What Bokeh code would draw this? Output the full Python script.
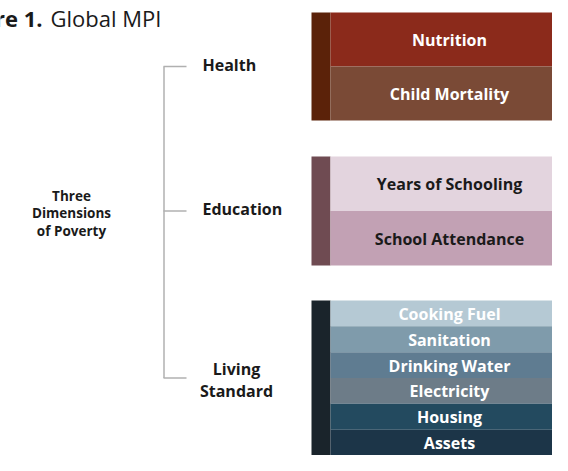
from bokeh.plotting import figure
from bokeh.models import Range1d
from bokeh.core.properties import value
from bokeh.embed import file_html
from bokeh.resources import INLINE

# ---- data ----
title_bold = "Figure 1."
title_rest = "Global MPI"
root_label = "Three\nDimensions\nof Poverty"
groups = ["Health", "Education", "Living\nStandard"]
indicators = [
    ["Nutrition", "Child Mortality"],
    ["Years of Schooling", "School Attendance"],
    ["Cooking Fuel", "Sanitation", "Drinking Water", "Electricity", "Housing", "Assets"],
]

# ---- style ----
strip_colors = ["#5b2209", "#6f4b52", "#1a242b"]
row_colors = [
    ["#8b2a1b", "#7a4a36"],
    ["#e3d4de", "#c2a1b4"],
    ["#b5c9d4", "#7f9bab", "#5f7c91", "#6d7c88", "#234a5f", "#1c3548"],
]
text_colors = ["#ffffff", "#1a1a1a", "#ffffff"]
group_top = [12, 156, 300]
group_bottom = [120, 265, 455]

W, H = 552, 455
p = figure(width=W, height=H, x_range=Range1d(0, W), y_range=Range1d(H, 0),
           output_backend="svg", toolbar_location=None, min_border=0)
p.axis.visible = False
p.grid.visible = False
p.outline_line_color = None
p.background_fill_color = "white"
p.border_fill_color = "white"

fontname = value("Open Sans")
dark = "#1a1a1a"

# title (left part is cropped like in the reference)
p.text(x=[42], y=[17], text=[title_bold], text_font=fontname, text_font_style="bold",
       text_font_size="22px", text_align="right", text_baseline="alphabetic", text_color=dark)
p.text(x=[50], y=[17], text=[title_rest], text_font=fontname, text_font_size="22px",
       text_align="left", text_baseline="alphabetic", text_color=dark)

centers = []
for gi, items in enumerate(indicators):
    n = len(items)
    top, bot = group_top[gi], group_bottom[gi]
    h = (bot - top) / n
    tops = [top + i * h for i in range(n)]
    bots = [t + h for t in tops]
    centers.append((top + bot) / 2)
    p.quad(left=[311], right=[330], top=[top], bottom=[bot], fill_color=strip_colors[gi], line_color=None)
    p.quad(left=[330] * n, right=[W] * n, top=tops, bottom=bots, fill_color=row_colors[gi], line_color=None)
    p.text(x=[449] * n, y=[(t + b) / 2 + 0.5 for t, b in zip(tops, bots)], text=items, text_font=fontname,
           text_font_style="bold", text_font_size="16px", text_align="center", text_baseline="middle",
           text_color=text_colors[gi])

# tree
p.line(x=[163.5, 163.5], y=[centers[0], centers[-1]], line_color="#b0b0b0", line_width=1.5)
for gi, c in enumerate(centers):
    p.line(x=[163, 186], y=[c, c], line_color="#b0b0b0", line_width=1.5)
    lab = groups[gi]
    if "\n" in lab:
        p.text(x=[236], y=[c + 2], text=[lab], text_font=fontname, text_font_style="bold", text_font_size="16px",
               text_align="center", text_baseline="middle", text_color=dark, text_line_height=0.97)
    else:
        p.text(x=[202], y=[c - 2], text=[lab], text_font=fontname, text_font_style="bold", text_font_size="16px",
               text_align="left", text_baseline="middle", text_color=dark)

p.text(x=[71], y=[213], text=[root_label], text_font=fontname, text_font_style="bold",
       text_font_size="13.5px", text_align="center", text_baseline="middle", text_color=dark,
       text_line_height=0.95)

open("out.html", "w").write(file_html(p, INLINE))
